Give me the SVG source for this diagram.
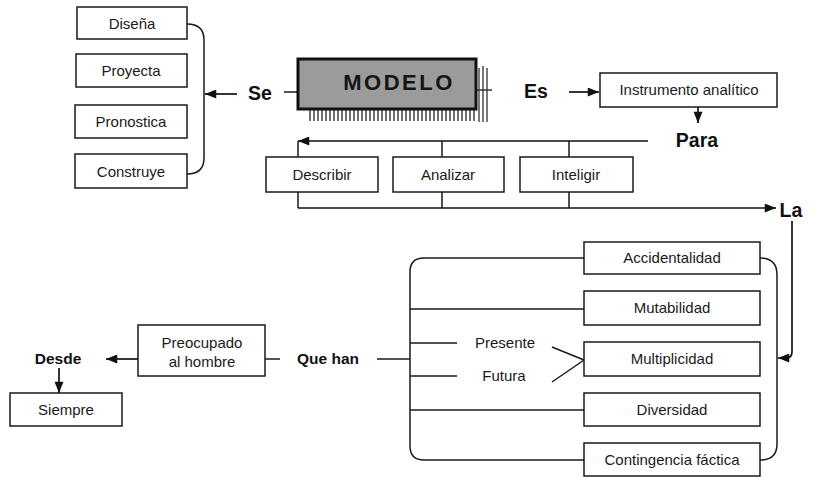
<svg xmlns="http://www.w3.org/2000/svg" width="814" height="479" viewBox="0 0 814 479">
  <defs>
    <marker id="arrow" viewBox="0 0 10 8" refX="10" refY="4" markerWidth="12" markerHeight="9" markerUnits="userSpaceOnUse" orient="auto">
      <path d="M0,0 L10,4 L0,8 Z" fill="#111"/>
    </marker>
  </defs>
  <style>
    .box { fill: #fff; stroke: #1a1a1a; stroke-width: 1.5; }
    .lbl { font-family: "Liberation Sans", Arial, sans-serif; font-size: 15px; fill: #1a1a1a; text-anchor: middle; }
    .key { font-family: "Liberation Sans", Arial, sans-serif; font-size: 19.5px; font-weight: bold; fill: #111; text-anchor: middle; }
    .sub { font-family: "Liberation Sans", Arial, sans-serif; font-size: 15.5px; font-weight: bold; fill: #111; text-anchor: middle; }
    .ln { fill: none; stroke: #1a1a1a; stroke-width: 1.5; }
    .arr { fill: none; stroke: #111; stroke-width: 1.7; marker-end: url(#arrow); }
  </style>
  <rect width="814" height="479" fill="#fff"/>

  <!-- connectors -->
  <g id="connectors">
    <!-- bracket gathering the four verbs -->
    <path class="ln" d="M187,24 Q204,24 204,40 V158 Q204,174 187,174"/>
    <path class="arr" d="M237,94 H205"/>
    <path class="ln" d="M284,92 H298"/>
    <!-- Es to Instrumento -->
    <path class="arr" d="M569,92 H599"/>
    <path class="arr" d="M698,107 V123"/>
    <!-- Para row -->
    <path class="arr" d="M648,141 H298"/>
    <path class="ln" d="M298,141 V157 M442,141 V157 M569,141 V157"/>
    <path class="ln" d="M298,192 V208 M442,192 V208 M569,192 V208"/>
    <path class="arr" d="M298,208 H776"/>
    <!-- La down to the right bracket -->
    <path class="arr" d="M792,221 V352 Q792,358 786,358 H778"/>
    <path class="ln" d="M760,258 Q777,258 777,275 V444 Q777,460 760,460"/>
    <!-- bracket of the characteristics -->
    <path class="ln" d="M584,258 H424 Q410,258 410,272 V446 Q410,460 424,460 H584"/>
    <path class="ln" d="M410,309 H584 M410,343 H457 M410,376 H457 M410,410 H584"/>
    <path class="ln" d="M552,347 L584,360 L552,382"/>
    <path class="ln" d="M377,359 H410"/>
    <!-- Que han / Preocupado / Desde -->
    <path class="ln" d="M265,359 H280"/>
    <path class="arr" d="M138,359 H106"/>
    <path class="arr" d="M59,368 V393"/>
  </g>

  <!-- verbs -->
  <g id="disena"><rect class="box" x="77" y="7" width="110" height="32"/><text class="lbl" x="132" y="28.5">Diseña</text></g>
  <g id="proyecta"><rect class="box" x="76" y="54" width="111" height="33"/><text class="lbl" x="131" y="76">Proyecta</text></g>
  <g id="pronostica"><rect class="box" x="75" y="105" width="112" height="33"/><text class="lbl" x="131" y="127">Pronostica</text></g>
  <g id="construye"><rect class="box" x="75" y="154" width="112" height="34"/><text class="lbl" x="131" y="176.5">Construye</text></g>

  <g id="se"><text class="key" x="260" y="100">Se</text></g>

  <!-- central model block -->
  <g id="modelo">
    <path d="M310,110 V121 M314,110 V121 M318,110 V121 M322,110 V121 M326,110 V121 M330,110 V121 M334,110 V121 M338,110 V121 M342,110 V121 M346,110 V121 M350,110 V121 M354,110 V121 M358,110 V121 M362,110 V121 M366,110 V121 M370,110 V121 M374,110 V121 M378,110 V121 M382,110 V121 M386,110 V121 M390,110 V121 M394,110 V121 M398,110 V121 M402,110 V121 M406,110 V121 M410,110 V121 M414,110 V121 M418,110 V121 M422,110 V121 M426,110 V121 M430,110 V121 M434,110 V121 M438,110 V121 M442,110 V121 M446,110 V121 M450,110 V121 M454,110 V121 M458,110 V121 M462,110 V121 M466,110 V121 M470,110 V121 M474,110 V121" stroke="#333" stroke-width="1.4"/>
    <path d="M479,68 V122 M483,66 V122 M487,68 V122 M477,90 H492" stroke="#333" stroke-width="1.3" fill="none"/>
    <rect x="298" y="59" width="178" height="50" fill="#9b9b9b" stroke="#111" stroke-width="3"/>
    <text x="399" y="90" font-family="'Liberation Sans', Arial, sans-serif" font-size="22" font-weight="bold" fill="#151515" text-anchor="middle" letter-spacing="2.5">MODELO</text>
  </g>

  <g id="es"><text class="key" x="536" y="98">Es</text></g>
  <g id="instrumento"><rect class="box" x="600" y="73" width="177" height="34"/><text class="lbl" x="689" y="95">Instrumento analítico</text></g>
  <g id="para"><text class="key" x="697" y="147">Para</text></g>

  <g id="describir"><rect class="box" x="266" y="157" width="112" height="35"/><text class="lbl" x="322" y="180">Describir</text></g>
  <g id="analizar"><rect class="box" x="393" y="157" width="111" height="35"/><text class="lbl" x="448" y="180">Analizar</text></g>
  <g id="inteligir"><rect class="box" x="520" y="157" width="113" height="35"/><text class="lbl" x="576" y="180">Inteligir</text></g>

  <g id="la"><text class="key" x="791" y="217" text-anchor="start">La</text></g>

  <!-- characteristics -->
  <g id="accidentalidad"><rect class="box" x="584" y="242" width="176" height="32"/><text class="lbl" x="672" y="263">Accidentalidad</text></g>
  <g id="mutabilidad"><rect class="box" x="584" y="291" width="176" height="34"/><text class="lbl" x="672" y="313">Mutabilidad</text></g>
  <g id="multiplicidad"><rect class="box" x="584" y="342" width="176" height="34"/><text class="lbl" x="672" y="364">Multiplicidad</text></g>
  <g id="diversidad"><rect class="box" x="584" y="393" width="176" height="33"/><text class="lbl" x="672" y="415">Diversidad</text></g>
  <g id="contingencia"><rect class="box" x="584" y="443" width="176" height="33"/><text class="lbl" x="672" y="465">Contingencia fáctica</text></g>

  <g id="presente"><text class="lbl" x="505" y="348">Presente</text></g>
  <g id="futura"><text class="lbl" x="504" y="381">Futura</text></g>

  <g id="que-han"><text class="sub" x="328" y="364">Que han</text></g>
  <g id="preocupado"><rect class="box" x="138" y="325" width="127" height="51"/><text class="lbl" x="202" y="348">Preocupado</text><text class="lbl" x="202" y="367">al hombre</text></g>
  <g id="desde"><text class="sub" x="58" y="364">Desde</text></g>
  <g id="siempre"><rect class="box" x="10" y="393" width="112" height="33"/><text class="lbl" x="66" y="415">Siempre</text></g>
</svg>
